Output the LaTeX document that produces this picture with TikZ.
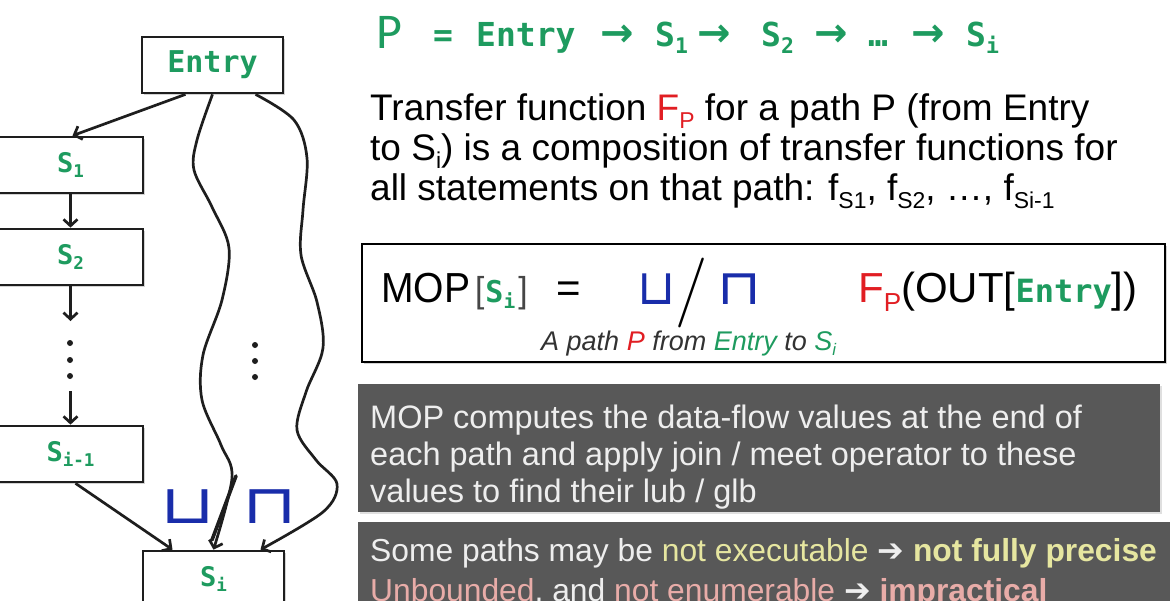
\documentclass[tikz,border=0pt]{standalone}
\usepackage{graphicx}
\usepackage{fontspec}
\setmainfont{Liberation Sans}
\newfontfamily\narr{Liberation Sans}[FakeStretch=0.93]
\newfontfamily\monof{DejaVu Sans Mono}
\newfontfamily\carl{Carlito}
\newfontfamily\djv{DejaVu Sans}
\newfontfamily\lmr{Latin Modern Roman}
\usetikzlibrary{arrows.meta,calc,shadows}
\definecolor{cfgreen}{RGB}{30,155,95}
\definecolor{cfred}{RGB}{225,30,35}
\definecolor{cfblue}{RGB}{25,45,170}
\definecolor{boxgray}{RGB}{88,88,88}
\definecolor{lyellow}{RGB}{230,230,160}
\definecolor{lpink}{RGB}{232,172,168}
\definecolor{lwhite}{RGB}{238,238,238}
\definecolor{edgec}{RGB}{30,30,30}
\definecolor{subgray}{RGB}{50,50,50}
\definecolor{brk}{RGB}{70,70,70}
\newcommand{\fsz}[2]{\fontsize{#1}{#2}\selectfont}
\newcommand{\gS}[1]{{\monof\bfseries\color{cfgreen}S\raisebox{-0.22em}{\scalebox{0.65}{#1}}}}
\newcommand{\sub}[1]{\raisebox{-0.22em}{\scalebox{0.62}{#1}}}
\newcommand{\topm}{\monof\bfseries\fsz{33}{33}\color{cfgreen}}
\newcommand{\tarr}{{\djv\bfseries\fsz{40}{40}\color{cfgreen}→}}
\newcommand{\grayt}{\fsz{32.5}{37}\color{lwhite}}
\begin{document}
\begin{tikzpicture}[x=1pt,y=-1pt,
  box/.style={draw=edgec,line width=2.7pt,fill=white,minimum width=141pt,minimum height=56pt,inner sep=0pt,
    drop shadow={shadow xshift=2pt,shadow yshift=-2pt,opacity=0.35}},
  lbox/.style={box,minimum width=145pt},
  arr/.style={draw=edgec,line width=2.7pt,-{Straight Barb[length=6.5pt,width=14pt]}},
  lbl/.style={inner sep=0pt,anchor=base west},
  dot/.style={fill=edgec},
]
\useasboundingbox (0,0) rectangle (1170,600);

% ---------- left graph ----------
\node[box] (Entry) at (212.5,65) {\fsz{30}{30}\monof\bfseries\color{cfgreen}Entry};
\node[lbox] (S1) at (70.5,165) {\fsz{27}{27}\gS{1}};
\node[lbox] (S2) at (70.5,257) {\fsz{27}{27}\gS{2}};
\node[lbox] (Sim) at (70.5,454) {\fsz{27}{27}\gS{i-1}};
\node[box] (Si) at (213.5,579) {\fsz{27}{27}\gS{i}};

\coordinate (d1) at (70.5,321);
\coordinate (d2) at (70.5,391);
\draw[arr] ($(Entry.south)+(-27,0)$) -- ($(S1.north)+(2,0)$);
\draw[arr] (S1.south) -- (S2.north);
\draw[arr] (S2.south) -- (d1);
\draw[arr] (d2) -- (Sim.north);
\draw[arr] ($(Sim.south)+(5,0)$) -- ($(Si.north)+(-41,0)$);
\foreach \yy in {343,360,376} \fill[dot] (70,\yy) circle (3pt);
\foreach \yy in {345,361,377} \fill[dot] (255,\yy) circle (3pt);

\draw[arr] plot[smooth,tension=0.55] coordinates {(Entry.south) (197,140) (194,170) (212,207) (229,248) (222,300) (203,355) (202,400) (221,445) (232,478) (Si.north)};
\draw[arr] plot[smooth,tension=0.55] coordinates {($(Entry.south)+(43,0)$) (294,120) (307,158) (303,210) (301,255) (317,302) (323,348) (306,392) (297,430) (316,460) (337,484) (323,512) ($(Si.north)+(47,0)$)};

\node[lbl,text=cfblue] (jn) at (160,523) {\djv\fsz{54}{54}\scalebox{1.3}[1]{⊔}};
\node[lbl,text=cfblue] (mt) at (242,523) {\djv\fsz{54}{54}\scalebox{1.3}[1]{⊓}};
\draw[line width=3.6pt,edgec,line cap=round] (236,476) -- (212,540);

% ---------- top path line ----------
\node[lbl,text=cfgreen] (P) at (376,48) {\carl\fsz{50}{50}P};
\node[lbl] (eq) at (433,46) {\topm =};
\node[lbl] (t1) at (476,46) {\topm Entry};
\node[lbl] (a1) at (600,46) {\tarr};
\node[lbl] (t2) at (655,46) {\topm\gS{1}};
\node[lbl] (a2) at (697,46) {\tarr};
\node[lbl] (t3) at (761,46) {\topm\gS{2}};
\node[lbl] (a3) at (814,46) {\tarr};
\node[lbl] (t4) at (868,46) {\topm …};
\node[lbl] (a4) at (911,46) {\tarr};
\node[lbl] (t5) at (966,46) {\topm\gS{i}};

% ---------- paragraph ----------
\node[lbl] (p1) at (370,120) {\fsz{37}{40}Transfer function \textcolor{cfred}{F\sub{P}} for a path P (from Entry};
\node[lbl] (p2) at (370,160) {\fsz{37}{40}to S\sub{i}) is a composition of transfer functions for};
\node[lbl] (p3) at (370,200) {\fsz{37}{40}all statements on that path: f\sub{S1}, f\sub{S2}, …, f\sub{Si-1}};

% ---------- MOP box ----------
\node[draw=black,line width=2.6pt,fill=white,minimum width=803pt,minimum height=118pt,
  drop shadow={shadow xshift=2pt,shadow yshift=-2pt,opacity=0.35}] (mopbox) at (763.5,303) {};
\node[lbl] (mop) at (381,302) {\narr\fsz{42}{42}MOP\kern5pt{\fsz{36}{36}\color{brk}[}\kern1pt{\fsz{30}{30}\gS{i}}\kern3pt{\fsz{36}{36}\color{brk}]}};
\node[lbl] (meq) at (556,302) {\fsz{42}{42}=};
\node[lbl,text=cfblue] (mj) at (637,304) {\djv\fsz{49}{49}⊔};
\node[lbl] (ms) at (675,310) {\lmr\fsz{70}{70}/};
\node[lbl,text=cfblue] (mm) at (717,304) {\djv\fsz{49}{49}\scalebox{1.15}[1]{⊓}};
\node[lbl] (fp) at (858,302) {\fsz{42}{42}\textcolor{cfred}{F\sub{P}}(OUT[{\fsz{32}{32}\monof\bfseries\color{cfgreen}Entry}])};
\node[lbl] (sub) at (541,350) {\fsz{27}{27}\itshape\color{subgray}A path \textcolor{cfred}{P} from \textcolor{cfgreen}{Entry} to \textcolor{cfgreen}{S\sub{i}}};

% ---------- gray boxes ----------
\node[fill=boxgray,minimum width=802pt,minimum height=128pt,inner sep=0pt,
  drop shadow={shadow xshift=2pt,shadow yshift=-2pt,opacity=0.25}] (g1) at (759,448) {};
\node[lbl] (g1a) at (370,428) {\grayt MOP computes the data-flow values at the end of};
\node[lbl] (g1b) at (370,465) {\grayt each path and apply join / meet operator to these};
\node[lbl] (g1c) at (370,502) {\grayt values to find their lub / glb};

\node[fill=boxgray,minimum width=817pt,minimum height=93pt,inner sep=0pt,
  drop shadow={shadow xshift=2pt,shadow yshift=-2pt,opacity=0.25}] (g2) at (766.5,568.5) {};
\node[lbl] (g2a) at (370,561) {\fsz{31.8}{37}\color{lwhite}Some paths may be \textcolor{lyellow}{not executable} {\djv\bfseries ➔} \textcolor{lyellow}{\bfseries not fully precise}};
\node[lbl] (g2b) at (370,601) {\fsz{31.8}{37}\color{lwhite}\textcolor{lpink}{Unbounded}, and \textcolor{lpink}{not enumerable} {\djv\bfseries ➔} \textcolor{lpink}{\bfseries impractical}};
\end{tikzpicture}
\end{document}
